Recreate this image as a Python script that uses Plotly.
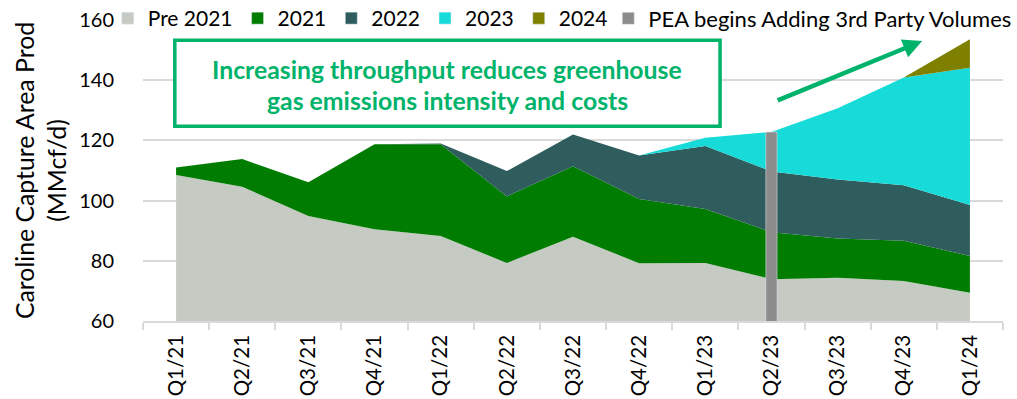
import plotly.graph_objects as go

# Quarterly categories
quarters = ["Q1/21", "Q2/21", "Q3/21", "Q4/21", "Q1/22", "Q2/22", "Q3/22",
            "Q4/22", "Q1/23", "Q2/23", "Q3/23", "Q4/23", "Q1/24"]

# Production by well vintage (MMcf/d), stacked
pre_2021 = [108.5, 104.6, 94.9, 90.5, 88.2, 79.3, 88.0, 79.2, 79.3, 73.9, 74.4, 73.3, 69.4]
vint_2021 = [2.5, 9.2, 11.2, 28.2, 30.5, 22.1, 23.4, 21.3, 17.9, 15.6, 13.0, 13.4, 12.2]
vint_2022 = [0, 0, 0, 0, 0.3, 8.4, 10.6, 14.5, 20.9, 20.2, 19.6, 18.4, 16.9]
vint_2023 = [0, 0, 0, 0, 0, 0, 0, 0, 2.8, 13.1, 23.7, 35.8, 45.6]
vint_2024 = [0, 0, 0, 0, 0, 0, 0, 0, 0, 0, 0, 0, 9.5]

# Marker for the quarter PEA begins adding 3rd-party volumes
pea_quarter = ["Q2/23"]
pea_value = [122.8]

series = [
    ("Pre 2021", pre_2021, "#C5CAC3"),
    ("2021", vint_2021, "#007D00"),
    ("2022", vint_2022, "#2F5D5D"),
    ("2023", vint_2023, "#16DBD9"),
    ("2024", vint_2024, "#7F7F00"),
]
pea_name = "PEA begins Adding 3rd Party Volumes"
pea_color = "#8C8C8C"

FONT = "Lato, 'Open Sans', sans-serif"
GREEN = "#00B36B"
GRID = "#D9D9D9"

fig = go.Figure()

for name, vals, color in series:
    fig.add_trace(go.Scatter(
        x=quarters, y=vals, name=name, stackgroup="prod", mode="lines",
        line=dict(width=0, color=color), fillcolor=color,
        showlegend=False, hoverinfo="skip",
    ))

# PEA column drawn on an overlaid axis so it sits above the areas
fig.add_trace(go.Bar(
    x=pea_quarter, y=pea_value, name=pea_name, marker_color=pea_color,
    width=0.17, xaxis="x2", showlegend=False, hoverinfo="skip",
))

# Legend entries with square swatches
for name, _, color in series:
    fig.add_trace(go.Bar(x=[None], y=[None], name=name, marker_color=color,
                         xaxis="x2", showlegend=True, hoverinfo="skip",
                         legend="legend"))
fig.add_trace(go.Bar(x=[None], y=[None], name=pea_name, marker_color=pea_color,
                     xaxis="x2", showlegend=True, hoverinfo="skip",
                     legend="legend2"))

legend_common = dict(
    orientation="h", xanchor="left", y=1.005, yanchor="middle",
    bgcolor="rgba(0,0,0,0)", itemclick=False, traceorder="normal",
)

fig.update_layout(
    width=1017, height=399,
    margin=dict(l=143, r=14, t=20, b=78, autoexpand=False),
    paper_bgcolor="white", plot_bgcolor="white",
    font=dict(family=FONT, size=20, color="#000000"),
    barmode="overlay",
    showlegend=True,
    legend=dict(x=-0.041, font=dict(size=21), **legend_common),
    legend2=dict(x=0.541, font=dict(size=22), **legend_common),
    xaxis=dict(
        type="category", categoryorder="array", categoryarray=quarters,
        range=[-0.5, len(quarters) - 0.5], automargin=False,
        showgrid=False, showline=True, linecolor=GRID, linewidth=1.5,
        ticks="outside", tickson="boundaries", ticklen=7, tickcolor=GRID,
        tickwidth=1.5, tickangle=-90, tickfont=dict(size=20.5, color="#000000"),
        ticklabelstandoff=4,
    ),
    xaxis2=dict(
        type="category", categoryorder="array", categoryarray=quarters,
        overlaying="x", matches="x", visible=False,
    ),
    yaxis=dict(
        range=[60, 160], tickvals=[60, 80, 100, 120, 140, 160],
        automargin=False,
        showgrid=True, gridcolor=GRID, gridwidth=1.5, zeroline=False,
        showline=False, ticks="", tickfont=dict(size=20, color="#000000"),
        ticklabelstandoff=28,
        title=dict(text="Caroline Capture Area Prod<br>(MMcf/d)",
                   font=dict(size=24.8), standoff=5),
    ),
    shapes=[dict(
        type="rect", xref="paper", yref="paper",
        x0=0.037, x1=0.671, y0=0.647, y1=0.933,
        line=dict(color=GREEN, width=3.5), fillcolor="white", layer="above",
    )],
    annotations=[
        dict(text="<b>Increasing throughput reduces greenhouse</b>",
             xref="paper", yref="paper", x=0.3535, y=0.837,
             xanchor="center", yanchor="middle",
             showarrow=False, font=dict(size=24.8, color=GREEN, family=FONT)),
        dict(text="<b>gas emissions intensity and costs</b>",
             xref="paper", yref="paper", x=0.3535, y=0.731,
             xanchor="center", yanchor="middle",
             showarrow=False, font=dict(size=24.8, color=GREEN, family=FONT)),
        dict(text="", xref="paper", yref="paper", x=0.906, y=0.930,
             ax=-146, ay=60, axref="pixel", ayref="pixel",
             showarrow=True, arrowhead=2, arrowsize=0.85, arrowwidth=4.5,
             arrowcolor=GREEN, standoff=0),
    ],
)

fig.write_html("out.html")
